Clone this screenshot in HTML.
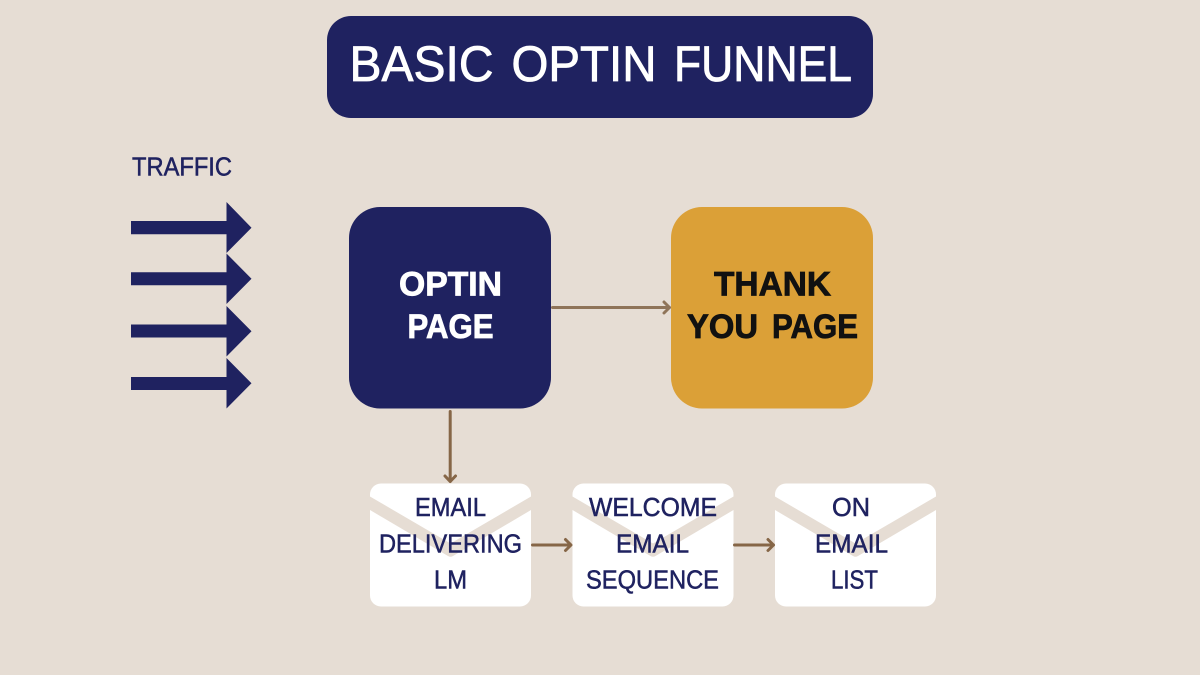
<!DOCTYPE html>
<html>
<head>
<meta charset="utf-8">
<style>
html,body{margin:0;padding:0;background:#e6ddd4;}
svg{display:block;}
text{font-family:"Liberation Sans",Arial,sans-serif;}
</style>
</head>
<body>
<svg width="1200" height="675" viewBox="0 0 1200 675" xmlns="http://www.w3.org/2000/svg">
<rect width="1200" height="675" fill="#e6ddd4"/>
<rect x="327" y="16" width="546" height="102" rx="24" fill="#1f2260"/>
<g font-size="50" fill="#fff" stroke="#fff" stroke-width="0.800">
<text x="349.500" y="81" textLength="144" lengthAdjust="spacingAndGlyphs">BASIC</text>
<text x="511.500" y="81" textLength="145" lengthAdjust="spacingAndGlyphs">OPTIN</text>
<text x="674" y="81" textLength="178" lengthAdjust="spacingAndGlyphs">FUNNEL</text>
</g>
<text x="132" y="175.300" font-size="26" fill="#1f2260" stroke="#1f2260" stroke-width="0.500" textLength="100" lengthAdjust="spacingAndGlyphs">TRAFFIC</text>
<g fill="#1f2260">
<path d="M131 221H226.500V202L251.500 227.700L226.500 253V234.300H131Z"/>
<path d="M131 272.300H226.500V253.500L251.500 278.800L226.500 304V285.300H131Z"/>
<path d="M131 324.500H226.500V306L251.500 331.200L226.500 356.500V337.500H131Z"/>
<path d="M131 377H226.500V358L251.500 383.300L226.500 408.500V390H131Z"/>
</g>
<rect x="349" y="207" width="202" height="201.500" rx="31" fill="#1f2260"/>
<g font-size="34" font-weight="bold">
<text x="399" y="295.500" fill="#fff" stroke="#fff" stroke-width="0.800" textLength="103" lengthAdjust="spacingAndGlyphs">OPTIN</text>
<text x="407.500" y="338" fill="#fff" stroke="#fff" stroke-width="0.800" textLength="86" lengthAdjust="spacingAndGlyphs">PAGE</text>
</g>
<rect x="671" y="207" width="202" height="201.500" rx="31" fill="#dba037"/>
<g font-size="34" font-weight="bold" fill="#111" stroke="#111" stroke-width="0.800">
<text x="714" y="295.500" textLength="117" lengthAdjust="spacingAndGlyphs">THANK</text>
<text x="687" y="338" textLength="71" lengthAdjust="spacingAndGlyphs">YOU</text>
<text x="772" y="338" textLength="86" lengthAdjust="spacingAndGlyphs">PAGE</text>
</g>
<rect x="370" y="483.500" width="161" height="123" rx="11" fill="#fff"/>
<path d="M370 496.500L450.500 543.500L531 496.500V510L453 556Q450.500 557.500 448 556L370 510Z" fill="#e6ddd4"/>
<rect x="572.500" y="483.500" width="161" height="123" rx="11" fill="#fff"/>
<path d="M572.500 496.500L653 543.500L733.500 496.500V510L655.500 556Q653 557.500 650.500 556L572.500 510Z" fill="#e6ddd4"/>
<rect x="775" y="483.500" width="161" height="123" rx="11" fill="#fff"/>
<path d="M775 496.500L855.500 543.500L936 496.500V510L858 556Q855.500 557.500 853 556L775 510Z" fill="#e6ddd4"/>
<g font-size="25.500" fill="#1f2260" stroke="#1f2260" stroke-width="0.500">
<text x="415" y="516" textLength="71" lengthAdjust="spacingAndGlyphs">EMAIL</text>
<text x="379" y="552.500" textLength="143" lengthAdjust="spacingAndGlyphs">DELIVERING</text>
<text x="434" y="588.500" textLength="33" lengthAdjust="spacingAndGlyphs">LM</text>
<text x="589" y="516" textLength="128" lengthAdjust="spacingAndGlyphs">WELCOME</text>
<text x="616" y="552.500" textLength="73" lengthAdjust="spacingAndGlyphs">EMAIL</text>
<text x="586" y="588.500" textLength="133" lengthAdjust="spacingAndGlyphs">SEQUENCE</text>
<text x="832" y="516" textLength="38" lengthAdjust="spacingAndGlyphs">ON</text>
<text x="815" y="552.500" textLength="73" lengthAdjust="spacingAndGlyphs">EMAIL</text>
<text x="831" y="588.500" textLength="47" lengthAdjust="spacingAndGlyphs">LIST</text>
</g>
<g fill="none" stroke="#866647" stroke-width="3" stroke-linecap="round" stroke-linejoin="round">
<path d="M552.500 307.500H669.500M664 302L669.500 307.500L664 313" stroke="#8f7459"/>
<path d="M450.200 411.500V481.500M445 476L450.200 481.500L455.500 476"/>
<path d="M532.500 545H570.500M565.500 539.500L571 545L565.500 550.500"/>
<path d="M734.500 545H773.500M768 539.500L773.500 545L768 550.500"/>
</g>
</svg>
</body>
</html>
